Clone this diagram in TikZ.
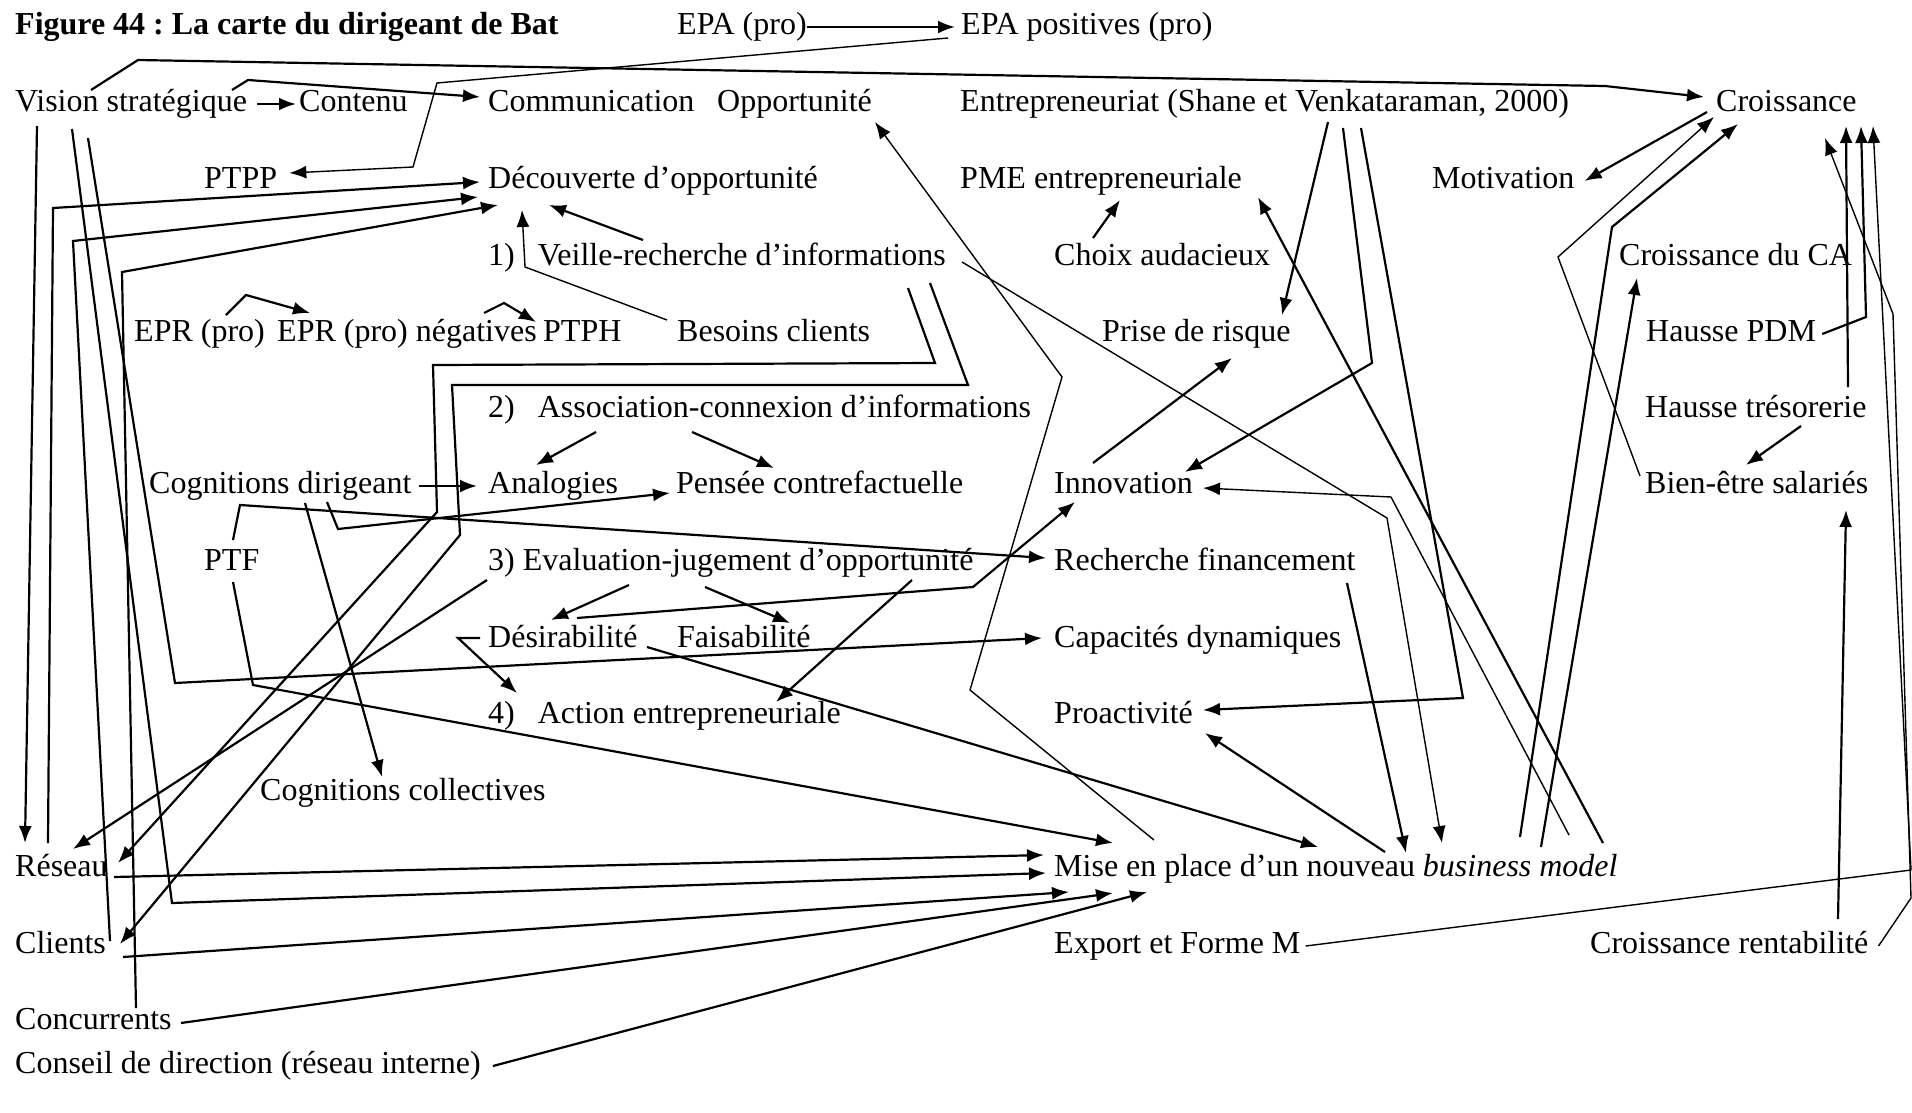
\documentclass[tikz,border=0pt]{standalone}
\usepackage{fontspec}
\setmainfont{Liberation Serif}
\usetikzlibrary{arrows.meta}
\frenchspacing

\begin{document}
\begin{tikzpicture}[
  x=1pt, y=-1pt,
  lbl/.style={anchor=west, inner sep=0pt, text height=22pt, text depth=7pt, font=\fontsize{32}{38}\selectfont},
  arr/.style={-{Latex[length=17pt,width=13pt]}, line width=2.2pt},
  thinarr/.style={arr, line width=1.4pt}
]
\useasboundingbox (0,0) rectangle (1912,1112);

% labels, row by row
\node[lbl, font=\bfseries\fontsize{32}{38}\selectfont] (title) at (15,27) {Figure 44 : La carte du dirigeant de Bat};
\node[lbl] (epa) at (677,27) {EPA (pro)};
\node[lbl] (epapos) at (961,27) {EPA positives (pro)};

\node[lbl] (vision) at (15,104) {Vision stratégique};
\node[lbl] (contenu) at (299,104) {Contenu};
\node[lbl] (comm) at (488,104) {Communication};
\node[lbl] (opport) at (717,104) {Opportunité};
\node[lbl] (entrep) at (960,104) {Entrepreneuriat (Shane et Venkataraman, 2000)};
\node[lbl] (croiss) at (1716,104) {Croissance};

\node[lbl] (ptpp) at (204,181) {PTPP};
\node[lbl] (decouv) at (488,181) {Découverte d’opportunité};
\node[lbl] (pme) at (960,181) {PME entrepreneuriale};
\node[lbl] (motiv) at (1432,181) {Motivation};

\node[lbl] (veille) at (488,258) {1)\hspace{23pt}Veille-recherche d’informations};
\node[lbl] (choix) at (1054,258) {Choix audacieux};
\node[lbl] (croissca) at (1619,258) {Croissance du CA};

\node[lbl] (epr) at (134,334) {EPR (pro)};
\node[lbl] (eprneg) at (277,334) {EPR (pro) négatives};
\node[lbl] (ptph) at (543,334) {PTPH};
\node[lbl] (besoins) at (677,334) {Besoins clients};
\node[lbl] (prise) at (1102,334) {Prise de risque};
\node[lbl] (pdm) at (1646,334) {Hausse PDM};

\node[lbl] (assoc) at (488,410) {2)\hspace{23pt}Association-connexion d’informations};
\node[lbl] (treso) at (1645,410) {Hausse trésorerie};

\node[lbl] (cogdir) at (149,486) {Cognitions dirigeant};
\node[lbl] (analog) at (488,486) {Analogies};
\node[lbl] (pensee) at (676,486) {Pensée contrefactuelle};
\node[lbl] (innov) at (1054,486) {Innovation};
\node[lbl] (bienetre) at (1645,486) {Bien-être salariés};

\node[lbl] (ptf) at (204,563) {PTF};
\node[lbl] (evalj) at (488,563) {3) Evaluation-jugement d’opportunité};
\node[lbl] (recherche) at (1054,563) {Recherche financement};

\node[lbl] (desir) at (488,640) {Désirabilité};
\node[lbl] (faisab) at (677,640) {Faisabilité};
\node[lbl] (capdyn) at (1054,640) {Capacités dynamiques};

\node[lbl] (action) at (488,716) {4)\hspace{23pt}Action entrepreneuriale};
\node[lbl] (proact) at (1054,716) {Proactivité};

\node[lbl] (cogcoll) at (260,793) {Cognitions collectives};

\node[lbl] (reseau) at (15,869) {Réseau};
\node[lbl] (bm) at (1054,869) {Mise en place d’un nouveau \textit{business model}};

\node[lbl] (clients) at (15,946) {Clients};
\node[lbl] (export) at (1054,946) {Export et Forme M};
\node[lbl] (rentab) at (1590,946) {Croissance rentabilité};

\node[lbl] (concur) at (15,1022) {Concurrents};
\node[lbl] (conseil) at (15,1066) {Conseil de direction (réseau interne)};

% top row
\draw[arr] (epa.east) -- ([xshift=-6pt]epapos.west);
\draw[arr] ([xshift=10pt]vision.east) -- ([xshift=-3pt]contenu.west);
\draw[arr] ([shift={(217,-14)}]vision.west) -- (248,80) -- ([shift={(-8,-7)}]comm.west);
\draw[arr] ([shift={(76,-14)}]vision.west) -- (138,60) -- (1605,86) -- ([shift={(-12,-7)}]croiss.west);
\draw[thinarr] ([shift={(-13,11)}]epapos.west) -- (437,83) -- (413,167) -- ([shift={(12,-8)}]ptpp.east);

% into Découverte
\draw[arr] ([shift={(33,-26)}]reseau.west) -- (53,208) -- ([shift={(-8,1)}]decouv.west);
\draw[arr] ([shift={(95,-5)}]clients.west) -- (73,241) -- ([shift={(-10,16)}]decouv.west);
\draw[arr] ([shift={(121,-14)}]concur.west) -- (122,272) -- ([shift={(10,24)}]decouv.west);
\draw[arr] ([shift={(155,-18)}]veille.west) -- ([shift={(61,24)}]decouv.west);
\draw[thinarr] ([shift={(-10,-14)}]besoins.west) -- (525,267) -- ([shift={(34,29)}]decouv.west);

% from Vision downwards
\draw[arr] ([shift={(22,22)}]vision.west) -- ([shift={(10,-26)}]reseau.west);
\draw[arr] ([shift={(57,25)}]vision.west) -- (172,903) -- ([shift={(-8,4)}]bm.west);
\draw[arr] ([shift={(73,34)}]vision.west) -- (175,683) -- ([shift={(-12,-2)}]capdyn.west);

% EPR
\draw[arr] ([shift={(92,-19)}]epr.west) -- (246,295) -- ([shift={(33,-21)}]eprneg.west);
\draw[arr] ([shift={(207,-21)}]eprneg.west) -- (504,303) -- ([shift={(-7,-12)}]ptph.west);

% veille loops
\draw[arr] ([shift={(420,30)}]veille.west) -- (935,363) -- (433,365) -- (437,512) -- ([shift={(103,-6)}]reseau.west);
\draw[arr] ([shift={(442,25)}]veille.west) -- (968,385) -- (452,385) -- (460,535) -- ([shift={(105,-2)}]clients.west);
\draw[arr] ([shift={(-1,17)}]evalj.west) -- ([shift={(58,-20)}]reseau.west);

% cognitions, PTF
\draw[arr] ([xshift=7pt]cogdir.east) -- ([xshift=-11pt]analog.west);
\draw[arr] ([shift={(178,16)}]cogdir.west) -- (338,529) -- ([shift={(-6,7)}]pensee.west);
\draw[arr] ([shift={(156,17)}]cogdir.west) -- ([shift={(122,-16)}]cogcoll.west);
\draw[arr] ([shift={(29,-23)}]ptf.west) -- (240,505) -- ([shift={(-8,-5)}]recherche.west);
\draw[arr] ([shift={(29,19)}]ptf.west) -- (253,685) -- ([shift={(59,-26)}]bm.west);

% association, evaluation
\draw[arr] ([shift={(108,22)}]assoc.west) -- ([shift={(48,-21)}]analog.west);
\draw[arr] ([shift={(204,22)}]assoc.west) -- ([shift={(98,-18)}]pensee.west);
\draw[arr] ([shift={(141,22)}]evalj.west) -- ([shift={(63,-20)}]desir.west);
\draw[arr] ([shift={(217,24)}]evalj.west) -- ([shift={(113,-17)}]faisab.west);
\draw[arr] ([shift={(424,17)}]evalj.west) -- ([shift={(288,-14)}]action.west);
\draw[arr] ([shift={(-8,-2)}]desir.west) -- (458,638) -- ([shift={(29,-23)}]action.west);
\draw[arr] ([shift={(89,-22)}]desir.west) -- (973,587) -- ([shift={(21,16)}]innov.west);
\draw[arr] ([shift={(159,7)}]desir.west) -- ([shift={(264,-22)}]bm.west);

% into business model from the left
\draw[arr] ([shift={(99,8)}]reseau.west) -- ([shift={(-10,-14)}]bm.west);
\draw[arr] ([shift={(108,11)}]clients.west) -- ([shift={(15,23)}]bm.west);
\draw[arr] ([shift={(166,1)}]concur.west) -- ([shift={(59,24)}]bm.west);
\draw[arr] ([xshift=12pt]conseil.east) -- ([shift={(93,23)}]bm.west);

% middle column
\draw[thinarr] ([shift={(100,-29)}]bm.west) -- (970,690) -- (1062,377) -- ([shift={(158,18)}]opport.west);
\draw[thinarr] ([shift={(474,4)}]veille.west) -- (1387,518) -- ([shift={(388,-26)}]bm.west);
\draw[thinarr] ([shift={(515,-34)}]bm.west) -- (1391,497) -- ([shift={(149,2)}]innov.west);
\draw[arr] ([shift={(368,18)}]entrep.west) -- ([shift={(180,-19)}]prise.west);
\draw[arr] ([shift={(383,24)}]entrep.west) -- (1372,363) -- ([shift={(131,-14)}]innov.west);
\draw[arr] ([shift={(401,24)}]entrep.west) -- (1463,698) -- ([shift={(149,-6)}]proact.west);
\draw[arr] ([shift={(39,-23)}]innov.west) -- ([shift={(130,24)}]prise.west);
\draw[arr] ([shift={(39,-20)}]choix.west) -- ([shift={(160,19)}]pme.west);
\draw[arr] ([shift={(293,20)}]recherche.west) -- ([shift={(352,-16)}]bm.west);
\draw[arr] ([shift={(331,-17)}]bm.west) -- ([shift={(151,17)}]proact.west);
\draw[arr] ([shift={(549,-26)}]bm.west) -- ([shift={(298,16)}]pme.west);

% right column
\draw[arr] ([shift={(487,-22)}]bm.west) -- ([shift={(18,20)}]croissca.west);
\draw[arr] ([shift={(466,-32)}]bm.west) -- (1612,227) -- ([shift={(22,20)}]croiss.west);
\draw[thinarr] ([shift={(-5,-10)}]bienetre.west) -- (1558,257) -- ([shift={(-2,13)}]croiss.west);
\draw[arr] ([shift={(-9,8)}]croiss.west) -- ([xshift=10pt]motiv.east);
\draw[arr] ([xshift=6pt]pdm.east) -- (1866,317) -- ([shift={(145,22)}]croiss.west);
\draw[arr] ([shift={(203,-23)}]treso.west) -- ([shift={(130,22)}]croiss.west);
\draw[arr] ([shift={(156,16)}]treso.west) -- ([shift={(101,-21)}]bienetre.west);
\draw[arr] ([shift={(248,-27)}]rentab.west) -- ([shift={(201,24)}]bienetre.west);
\draw[thinarr] ([xshift=5pt]export.east) -- (1911,870) -- ([shift={(157,22)}]croiss.west);
\draw[thinarr] ([xshift=10pt]rentab.east) -- (1911,898) -- (1893,314) -- ([shift={(109,34)}]croiss.west);
\end{tikzpicture}
\end{document}
